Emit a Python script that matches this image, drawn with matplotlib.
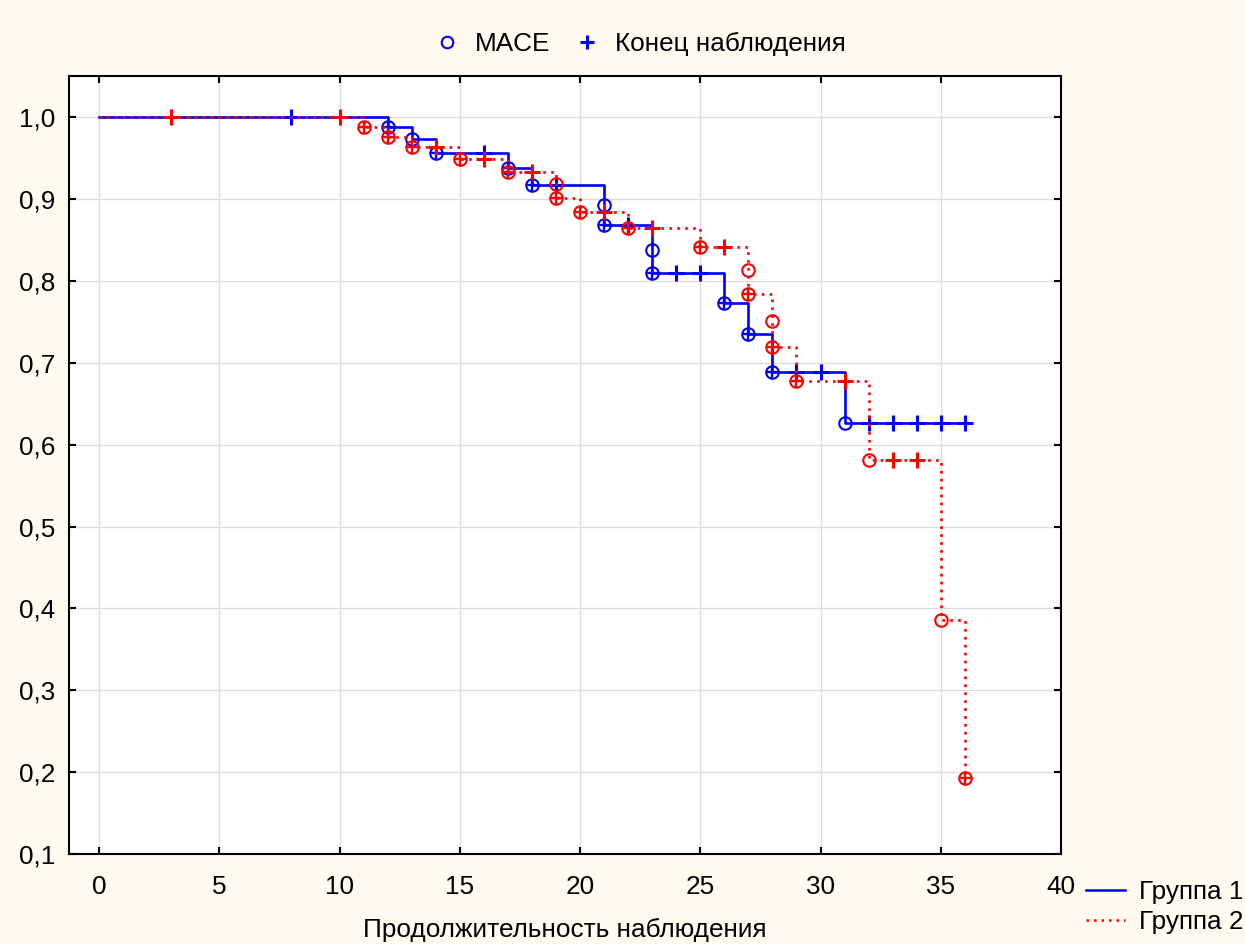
import matplotlib
matplotlib.use("Agg")
import matplotlib.pyplot as plt
from matplotlib.lines import Line2D
from matplotlib.ticker import FuncFormatter

plt.rcParams['font.family'] = ['Liberation Sans', 'DejaVu Sans']

# ---- data ----
# Group 1 (blue, solid)
g1_event_t = [12, 13, 14, 17, 18, 21, 21, 23, 23, 26, 27, 28, 31]
g1_event_s = [0.988, 0.973, 0.956, 0.938, 0.917, 0.893, 0.868, 0.838, 0.810, 0.773, 0.735, 0.689, 0.627]
g1_cens_t = [8, 12, 14, 16, 17, 18, 19, 21, 22, 23, 24, 25, 26, 27, 28, 29, 30, 32, 33, 34, 35, 36]
g1_cens_s = [1.0, 0.988, 0.956, 0.956, 0.938, 0.917, 0.917, 0.868, 0.868, 0.810, 0.810, 0.810,
             0.773, 0.735, 0.689, 0.689, 0.689, 0.627, 0.627, 0.627, 0.627, 0.627]
g1_end_t = 36

# Group 2 (red, dotted)
g2_event_t = [11, 12, 13, 15, 17, 19, 19, 20, 22, 25, 27, 27, 28, 28, 29, 32, 35, 36]
g2_event_s = [0.988, 0.976, 0.964, 0.949, 0.933, 0.918, 0.901, 0.884, 0.865, 0.842, 0.813, 0.784,
              0.751, 0.719, 0.678, 0.581, 0.386, 0.193]
g2_cens_t = [3, 10, 11, 12, 13, 14, 15, 16, 17, 18, 19, 20, 21, 22, 23, 25, 26, 27, 28, 29, 31, 33, 34, 36]
g2_cens_s = [1.0, 1.0, 0.988, 0.976, 0.964, 0.964, 0.949, 0.949, 0.933, 0.933, 0.901, 0.884, 0.884,
             0.865, 0.865, 0.842, 0.842, 0.784, 0.719, 0.678, 0.678, 0.581, 0.581, 0.193]
g2_end_t = 36

x_ticks = [0, 5, 10, 15, 20, 25, 30, 35, 40]
y_ticks = [0.1, 0.2, 0.3, 0.4, 0.5, 0.6, 0.7, 0.8, 0.9, 1.0]

BG = '#FFFAF0'
BLUE = '#0000FF'
RED = '#FF0000'
FS = 18.8
DOT = (0, (1, 2.0))

fig = plt.figure(figsize=(12.45, 9.44), dpi=100, facecolor=BG)
ax = fig.add_axes([69 / 1245, 1 - 854 / 944, (1061 - 69) / 1245, (854 - 76) / 944])
ax.set_facecolor('white')


def draw_group(et, es, ct, cs, t_end, color, ls, z):
    lt = [0] + list(et) + [t_end]
    lsv = [1.0] + list(es) + [es[-1]]
    ax.plot(lt, lsv, drawstyle='steps-post', color=color, lw=1.9, linestyle=ls, zorder=z)
    ax.plot(et, es, linestyle='none', marker='o', ms=9.0, mfc='none', mec=color, mew=1.5, zorder=z + 0.1)
    ev = set(zip(et, es))
    big_t = [t for t, s in zip(ct, cs) if (t, s) not in ev]
    big_s = [s for t, s in zip(ct, cs) if (t, s) not in ev]
    sm_t = [t for t, s in zip(ct, cs) if (t, s) in ev]
    sm_s = [s for t, s in zip(ct, cs) if (t, s) in ev]
    ax.plot(big_t, big_s, linestyle='none', marker='+', ms=11, mec=color, mew=2.2, zorder=z + 0.2)
    ax.plot(sm_t, sm_s, linestyle='none', marker='+', ms=9.0, mec=color, mew=1.7, zorder=z + 0.2)


draw_group(g1_event_t, g1_event_s, g1_cens_t, g1_cens_s, g1_end_t, BLUE, '-', 3)
draw_group(g2_event_t, g2_event_s, g2_cens_t, g2_cens_s, g2_end_t, RED, DOT, 4)

ax.set_xlim(-1.25, 40)
ax.set_ylim(0.1, 1.0505)
ax.set_xticks(x_ticks)
ax.set_yticks(y_ticks)
ax.yaxis.set_major_formatter(FuncFormatter(lambda v, p: f"{v:.1f}".replace('.', ',')))
ax.xaxis.set_major_formatter(FuncFormatter(lambda v, p: f"{v:.0f}"))
ax.grid(True, color='#DCDCDC', lw=1.0, zorder=0)
ax.set_axisbelow(True)
ax.tick_params(direction='in', length=5, width=1.5, top=True, right=True,
               labelsize=FS, colors='black', pad=10)
ax.tick_params(axis='x', pad=15)
for sp in ax.spines.values():
    sp.set_linewidth(1.5)
    sp.set_color('black')

ax.set_xlabel('Продолжительность наблюдения', fontsize=FS, labelpad=14)

# top legend (marker meaning)
h_top = [Line2D([], [], ls='none', marker='o', ms=8.3, mfc='none', mec=BLUE, mew=1.5),
         Line2D([], [], ls='none', marker='+', ms=10.5, mec=BLUE, mew=2.2)]
leg1 = fig.legend(h_top, ['MACE', 'Конец наблюдения'], loc='center', ncol=2,
                  bbox_to_anchor=(0.514, 0.953), frameon=False, fontsize=FS,
                  handlelength=1.0, handletextpad=0.55, columnspacing=0.92)

# bottom-right legend (groups)
h_grp = [Line2D([], [], color=BLUE, lw=1.8, ls='-'),
         Line2D([], [], color=RED, lw=1.8, ls=DOT)]
leg2 = fig.legend(h_grp, ['Группа 1', 'Группа 2'], loc='center left',
                  bbox_to_anchor=(0.8635, 0.039), frameon=False, fontsize=FS,
                  handlelength=1.53, handletextpad=0.5, labelspacing=0.25, borderaxespad=0)

fig.savefig('out.png', dpi=100, facecolor=BG)
